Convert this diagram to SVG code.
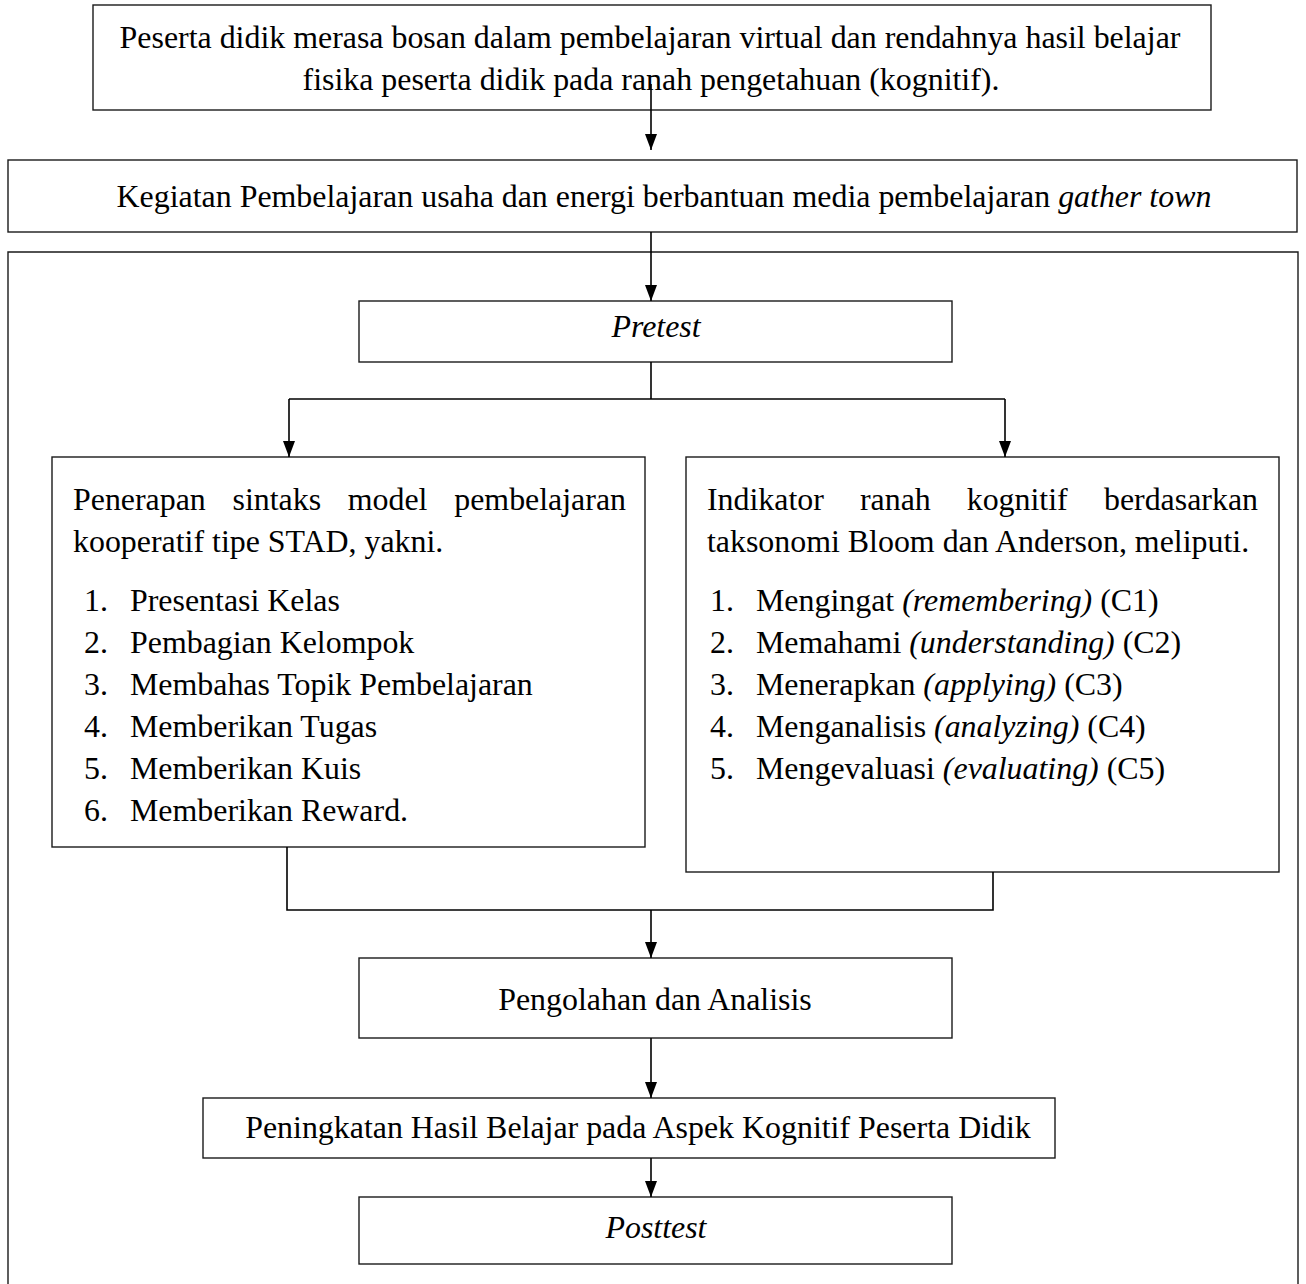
<svg xmlns="http://www.w3.org/2000/svg" width="1306" height="1284" viewBox="0 0 1306 1284">
<defs>
<style>
.box{fill:#fff;stroke:#1a1a1a;stroke-width:1.4}
.ln{fill:none;stroke:#000;stroke-width:1.6}
.t{font-family:"Liberation Serif","Times New Roman",serif;font-size:31.9px;fill:#000}
.c{text-anchor:middle}
.e{text-anchor:end}
.i{font-style:italic}
</style>
<marker id="ah" viewBox="0 0 16 12" refX="16" refY="6" markerWidth="16" markerHeight="12" markerUnits="userSpaceOnUse" orient="auto">
<path d="M0,0 L16,6 L0,12 z" fill="#000"/>
</marker>
</defs>
<rect width="1306" height="1284" fill="#fff"/>

<g id="outer">
<path class="box" d="M8,1290 V252 H1298 V1290" fill="none"/>
</g>

<g id="problem">
<rect class="box" x="93" y="5" width="1118" height="105"/>
<text class="t c" x="650" y="48">Peserta didik merasa bosan dalam pembelajaran virtual dan rendahnya hasil belajar</text>
<text class="t c" x="651" y="90">fisika peserta didik pada ranah pengetahuan (kognitif).</text>
</g>

<g id="kegiatan">
<rect class="box" x="8" y="160" width="1289" height="72"/>
<text class="t c" x="664" y="207">Kegiatan Pembelajaran usaha dan energi berbantuan media pembelajaran <tspan class="i">gather town</tspan></text>
</g>

<g id="pretest">
<rect class="box" x="359" y="301" width="593" height="61"/>
<text class="t c i" x="656" y="337">Pretest</text>
</g>

<g id="stad">
<rect class="box" x="52" y="457" width="593" height="390"/>
<text class="t" x="73" y="510">Penerapan</text>
<text class="t" x="232.5" y="510">sintaks</text>
<text class="t" x="347.7" y="510">model</text>
<text class="t e" x="626" y="510">pembelajaran</text>
<text class="t" x="73" y="552">kooperatif tipe STAD, yakni.</text>
<text class="t" x="84" y="611">1.</text>
<text class="t" x="130" y="611">Presentasi Kelas</text>
<text class="t" x="84" y="653">2.</text>
<text class="t" x="130" y="653">Pembagian Kelompok</text>
<text class="t" x="84" y="695">3.</text>
<text class="t" x="130" y="695">Membahas Topik Pembelajaran</text>
<text class="t" x="84" y="737">4.</text>
<text class="t" x="130" y="737">Memberikan Tugas</text>
<text class="t" x="84" y="779">5.</text>
<text class="t" x="130" y="779">Memberikan Kuis</text>
<text class="t" x="84" y="821">6.</text>
<text class="t" x="130" y="821">Memberikan Reward.</text>
</g>

<g id="bloom">
<rect class="box" x="686" y="457" width="593" height="415"/>
<text class="t" x="707" y="510">Indikator</text>
<text class="t" x="860" y="510">ranah</text>
<text class="t" x="966.7" y="510">kognitif</text>
<text class="t e" x="1258" y="510">berdasarkan</text>
<text class="t" x="707" y="552">taksonomi Bloom dan Anderson, meliputi.</text>
<text class="t" x="710" y="611">1.</text>
<text class="t" x="756" y="611">Mengingat <tspan class="i">(remembering)</tspan> (C1)</text>
<text class="t" x="710" y="653">2.</text>
<text class="t" x="756" y="653">Memahami <tspan class="i">(understanding)</tspan> (C2)</text>
<text class="t" x="710" y="695">3.</text>
<text class="t" x="756" y="695">Menerapkan <tspan class="i">(applying)</tspan> (C3)</text>
<text class="t" x="710" y="737">4.</text>
<text class="t" x="756" y="737">Menganalisis <tspan class="i">(analyzing)</tspan> (C4)</text>
<text class="t" x="710" y="779">5.</text>
<text class="t" x="756" y="779">Mengevaluasi <tspan class="i">(evaluating)</tspan> (C5)</text>
</g>

<g id="pengolahan">
<rect class="box" x="359" y="958" width="593" height="80"/>
<text class="t c" x="655" y="1010">Pengolahan dan Analisis</text>
</g>

<g id="peningkatan">
<rect class="box" x="203" y="1098" width="852" height="60"/>
<text class="t c" x="638" y="1138">Peningkatan Hasil Belajar pada Aspek Kognitif Peserta Didik</text>
</g>

<g id="posttest">
<rect class="box" x="359" y="1197" width="593" height="67"/>
<text class="t c i" x="656" y="1238">Posttest</text>
</g>

<g id="connectors">
<line class="ln" x1="651" y1="84" x2="651" y2="150" marker-end="url(#ah)"/>
<line class="ln" x1="651" y1="232" x2="651" y2="301" marker-end="url(#ah)"/>
<polyline class="ln" points="651,362 651,399"/>
<polyline class="ln" points="289,399 1005,399"/>
<line class="ln" x1="289" y1="399" x2="289" y2="457" marker-end="url(#ah)"/>
<line class="ln" x1="1005" y1="399" x2="1005" y2="457" marker-end="url(#ah)"/>
<polyline class="ln" points="287,847 287,910 993,910 993,872"/>
<line class="ln" x1="651" y1="910" x2="651" y2="958" marker-end="url(#ah)"/>
<line class="ln" x1="651" y1="1038" x2="651" y2="1098" marker-end="url(#ah)"/>
<line class="ln" x1="651" y1="1158" x2="651" y2="1197" marker-end="url(#ah)"/>
</g>
</svg>
